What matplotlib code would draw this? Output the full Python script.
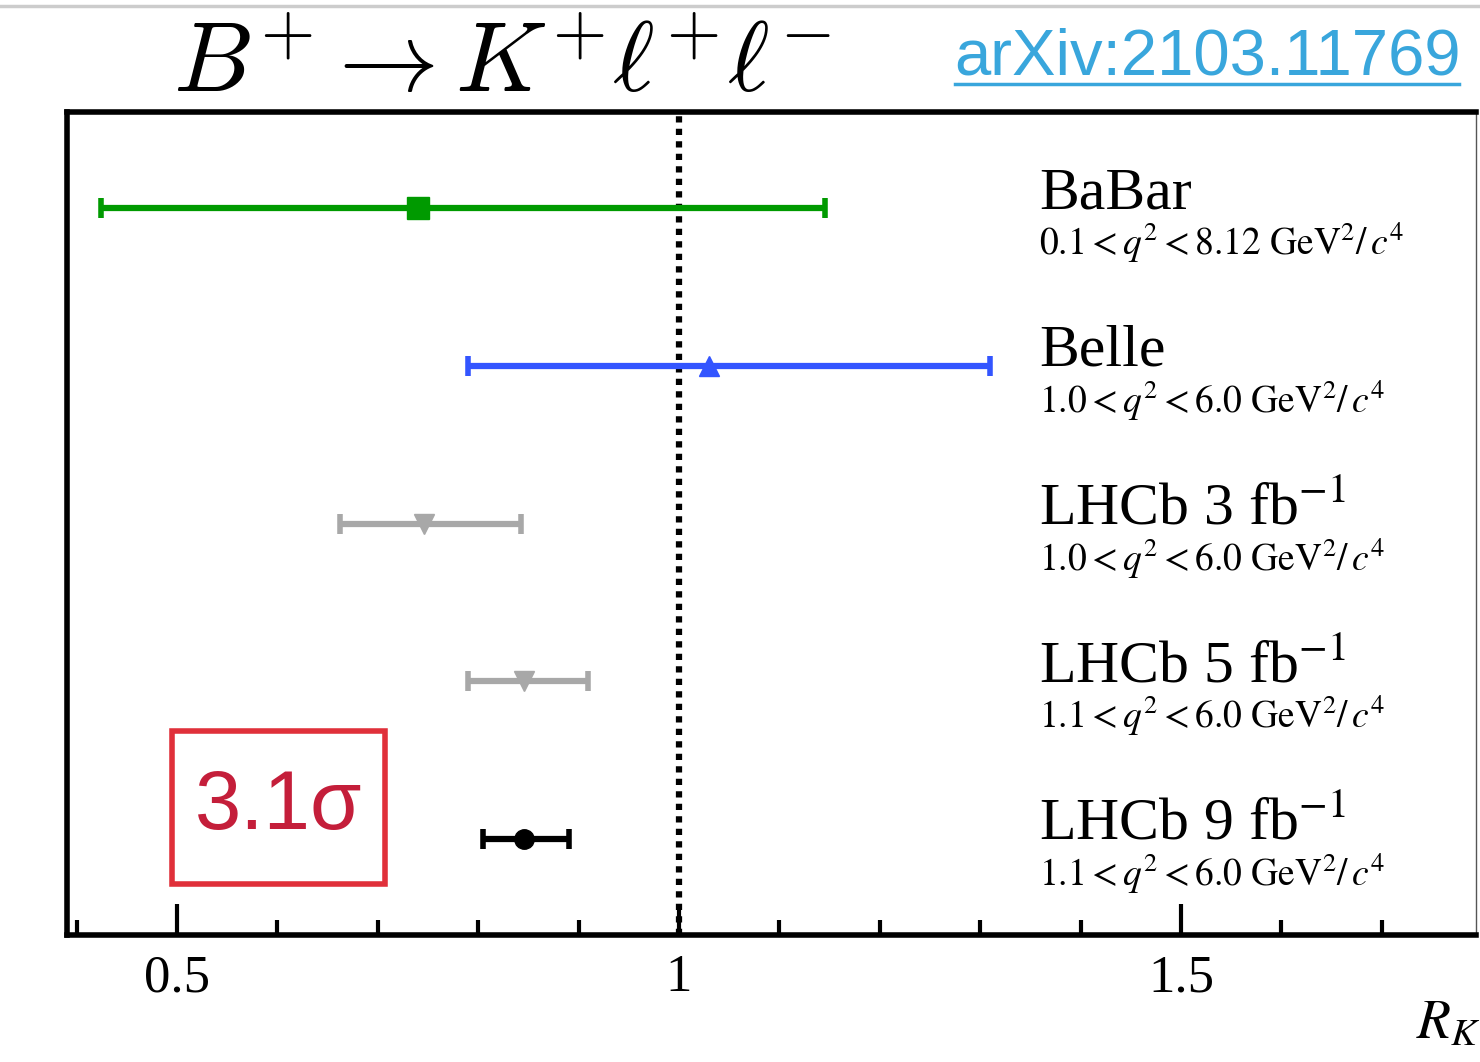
import matplotlib
matplotlib.use('Agg')
import matplotlib.pyplot as plt
from matplotlib.patches import Rectangle
from matplotlib.lines import Line2D

plt.rcParams['mathtext.fontset'] = 'stix'
plt.rcParams['font.family'] = ['Liberation Serif', 'DejaVu Serif']

# measurements, top to bottom
names = ['BaBar', 'Belle', 'LHCb 3 fb$^{-1}$', 'LHCb 5 fb$^{-1}$', 'LHCb 9 fb$^{-1}$']
q2_ranges = [r'$0.1 < q^2 < 8.12\ \mathrm{GeV}^2/\,c^4$',
             r'$1.0 < q^2 < 6.0\ \mathrm{GeV}^2/\,c^4$',
             r'$1.0 < q^2 < 6.0\ \mathrm{GeV}^2/\,c^4$',
             r'$1.1 < q^2 < 6.0\ \mathrm{GeV}^2/\,c^4$',
             r'$1.1 < q^2 < 6.0\ \mathrm{GeV}^2/\,c^4$']
rk_central = [0.740, 1.030, 0.746, 0.846, 0.846]
rk_low = [0.424, 0.790, 0.662, 0.790, 0.805]
rk_high = [1.145, 1.310, 0.843, 0.909, 0.890]
rows = [5, 4, 3, 2, 1]

colors = ['#009a00', '#3355ff', '#a8a8a8', '#a8a8a8', '#000000']
markers = ['s', '^', 'v', 'v', 'o']
msizes = [16, 15, 15, 15, 14]

fig = plt.figure(figsize=(14.8, 10.62), dpi=100)
ax = fig.add_axes([0.0453, 0.1196, 0.952, 0.7749])

for i in range(len(names)):
    ax.errorbar(rk_central[i], rows[i],
                xerr=[[rk_central[i] - rk_low[i]], [rk_high[i] - rk_central[i]]],
                fmt=markers[i], color=colors[i], ms=msizes[i],
                elinewidth=4.5, capsize=7, capthick=4, zorder=3)
    ax.text(1.359, rows[i], names[i], fontsize=43, va='baseline', ha='left')
    ax.annotate(q2_ranges[i], (1.359, rows[i]), xytext=(0, -34), textcoords='offset points',
                fontsize=27, va='baseline', ha='left')

ax.axvline(1.0, color='black', ls=(0, (1, 1)), lw=4.5, zorder=2)

ax.set_xlim(0.3904, 1.7938)
ax.set_ylim(0.391, 5.609)
ax.set_yticks([])
ax.set_xticks([0.5, 1.0, 1.5])
ax.set_xticklabels(['0.5', '1', '1.5'])
ax.set_xticks([0.4, 0.6, 0.7, 0.8, 0.9, 1.1, 1.2, 1.3, 1.4, 1.6, 1.7], minor=True)
ax.tick_params(axis='x', which='major', direction='in', length=22, width=3,
               labelsize=38, pad=14)
ax.tick_params(axis='x', which='minor', direction='in', length=11, width=3)
for s in ['left', 'top', 'bottom']:
    ax.spines[s].set_linewidth(4)
ax.spines['right'].set_linewidth(1)
ax.spines['right'].set_color('#555555')

# significance box
ax.add_patch(Rectangle((0.4953, 0.716), 0.212, 0.97, fill=False,
                       edgecolor='#e0303a', lw=4, zorder=4))
ax.text(0.601, 1.2, '3.1σ', fontsize=60, color='#c41e3a', family='Liberation Sans',
        ha='center', va='center', zorder=5)

# title and reference
fig.text(0.117, 0.913, r'$B^{+} \rightarrow K^{+}\ell^{+}\ell^{-}$', fontsize=72,
         math_fontfamily='cm', ha='left', va='baseline')
fig.text(0.645, 0.93, 'arXiv:2103.11769', fontsize=47, color='#39a6dc',
         family='Liberation Sans', ha='left', va='baseline')
fig.add_artist(Line2D([0.645, 0.986], [0.921, 0.921], color='#39a6dc', lw=2.5))

fig.text(0.957, 0.022, '$R_K$', fontsize=40, ha='left', va='baseline')
fig.add_artist(Line2D([0, 1], [0.994, 0.994], color='#cccccc', lw=2.5))

plt.savefig('out.png', dpi=100)
plt.close()
